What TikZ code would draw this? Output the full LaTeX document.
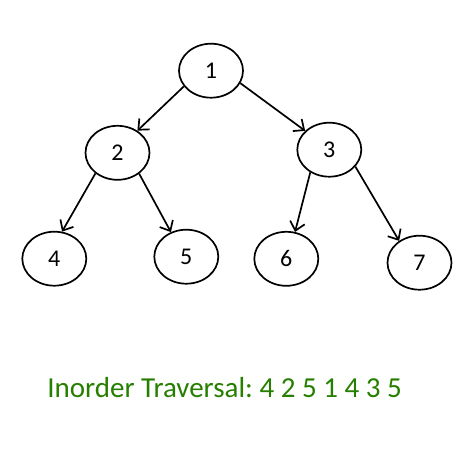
\documentclass[tikz,border=0pt]{standalone}
\usepackage{fontspec}
\setmainfont{Carlito}
\usetikzlibrary{arrows.meta,shapes.geometric}
\definecolor{travgreen}{RGB}{38,127,0}
\frenchspacing
\tikzset{
  treenode/.style={ellipse, draw=black, line width=1.7pt, minimum width=64pt,
    minimum height=54pt, inner sep=0pt, font=\fontsize{24}{24}\selectfont},
  edge/.style={line width=1.7pt, -{Straight Barb[length=8.5pt,width=15pt,line width=1.7pt]}},
}
\begin{document}
\begin{tikzpicture}[x=1pt,y=-1pt]
  \useasboundingbox (0,0) rectangle (476,450);
  % tree nodes
  \node[treenode] (n1) at (211,70.7) {1};
  \node[treenode] (n2) at (117.5,152.8) {2};
  \node[treenode] (n3) at (329.3,149.7) {3};
  \node[treenode] (n4) at (54.3,258.7) {4};
  \node[treenode] (n5) at (186.3,256.7) {5};
  \node[treenode] (n6) at (286.3,258.8) {6};
  \node[treenode] (n7) at (419.5,262.7) {7};
  % parent-to-child edges
  \draw[edge] (n1.210) -- (n2.48);
  \draw[edge] (n1.-23) -- (n3.142);
  \draw[edge] (n2.223) -- (n4.74);
  \draw[edge] (n2.-44) -- (n5.122);
  \draw[edge] (n3.230) -- (n6.72);
  \draw[edge] (n3.-33) -- (n7.133);
  % traversal caption
  \node[anchor=base, text=travgreen, font=\fontsize{29}{29}\selectfont, inner sep=0pt]
    (cap) at (224.5,397.3) {Inorder Traversal: 4 2 5 1 4 3 5};
\end{tikzpicture}
\end{document}
